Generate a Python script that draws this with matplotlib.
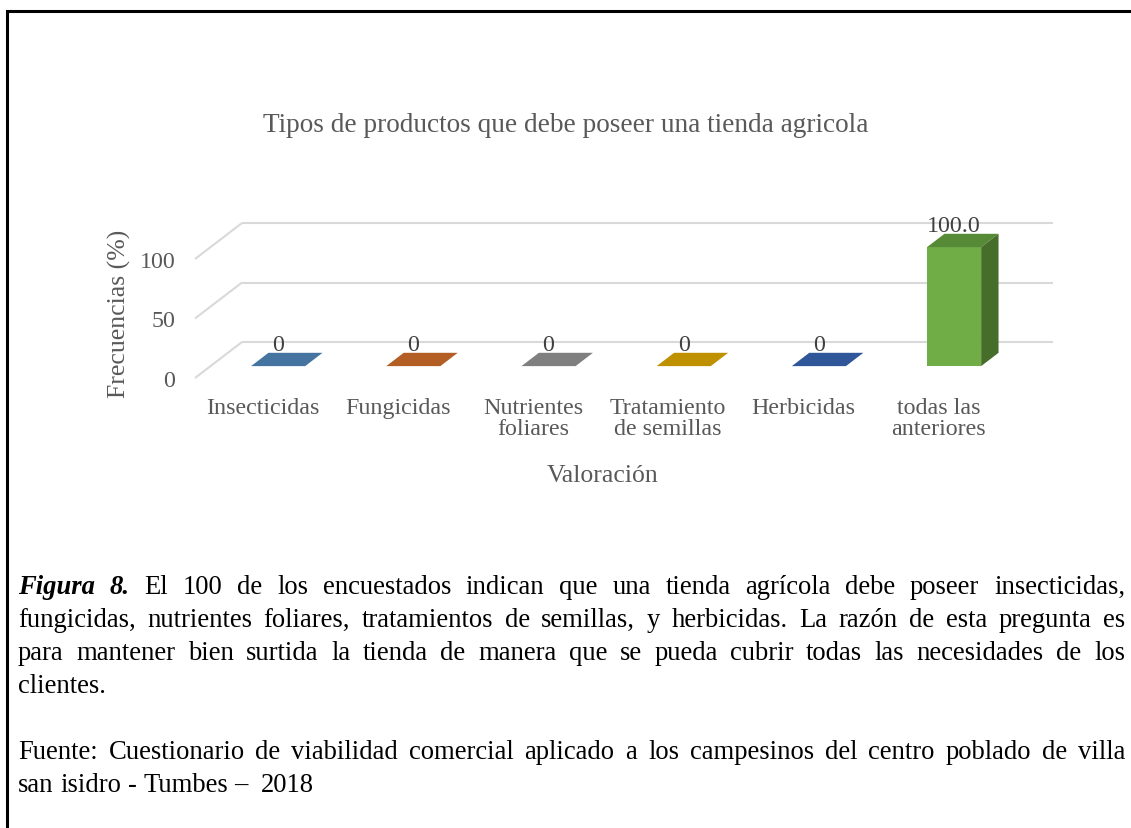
import matplotlib
matplotlib.use("Agg")
import matplotlib.pyplot as plt
from matplotlib.font_manager import FontProperties

# ---------------- data ----------------
categories = ["Insecticidas", "Fungicidas", "Nutrientes\nfoliares",
              "Tratamiento\nde semillas", "Herbicidas", "todas las\nanteriores"]
values = [0, 0, 0, 0, 0, 100.0]
value_labels = ["0", "0", "0", "0", "0", "100.0"]
yticks = [0, 50, 100]
title = "Tipos de productos que debe poseer una tienda agricola"
xlabel = "Valoración"
ylabel = "Frecuencias (%)"

front_colors = ["#5B9BD5", "#ED7D31", "#A5A5A5", "#FFC000", "#4472C4", "#70AD47"]
top_colors = ["#4674A0", "#B35E24", "#7F7F7F", "#BF9000", "#30569A", "#578A37"]
side_colors = ["#3A5F85", "#93491A", "#666666", "#9C7600", "#264580", "#466D2A"]

caption_lines = [
    (["Figura 8."], "El 100 de los encuestados indican que una tienda agrícola debe poseer insecticidas,", True),
    ([], "fungicidas, nutrientes foliares, tratamientos de semillas, y herbicidas. La razón de esta pregunta es", True),
    ([], "para mantener bien surtida la tienda de manera que se pueda cubrir todas las necesidades de los", True),
    ([], "clientes.", False),
    ([], "Fuente: Cuestionario de viabilidad comercial aplicado a los campesinos del centro poblado de villa", True),
    ([], "san isidro - Tumbes –  2018", False),
]
caption_baselines = [594, 627, 660, 693, 759, 792]

# ---------------- figure ----------------
W, H = 1131, 829
fig = plt.figure(figsize=(W / 100, H / 100), dpi=100)
fig.patch.set_facecolor("white")

SERIF = "Liberation Serif"
GRAY = "#595959"
FS = 17.3

# geometry (pixels)
px_per_cat = 135.2
px_per_val = 1.19
x0_px, y0_px = 195, 379           # front-left floor corner
DX = 47 / px_per_cat               # depth vector in data units
DY = 36 / px_per_val
d0, d1 = 0.33, 0.70                # bar depth range
bw = 0.40

ax_l, ax_r, ax_t, ax_b = 188, 1100, 180, 392
ax = fig.add_axes([ax_l / W, 1 - ax_b / H, (ax_r - ax_l) / W, (ax_b - ax_t) / H])
ax.set_xlim((ax_l - x0_px) / px_per_cat, (ax_r - x0_px) / px_per_cat)
ax.set_ylim((y0_px - ax_b) / px_per_val, (y0_px - ax_t) / px_per_val)
ax.patch.set_alpha(0)
for s in ax.spines.values():
    s.set_visible(False)

n = len(categories)
GRID = "#D9D9D9"
for v in yticks:
    ax.plot([0, DX], [v, v + DY], color=GRID, lw=1.5, zorder=1, solid_capstyle="butt")
    ax.plot([DX, n + DX], [v + DY, v + DY], color=GRID, lw=1.5, zorder=1, solid_capstyle="butt")


def P(x, v, d):
    return (x + d * DX, v + d * DY)


for i, val in enumerate(values):
    xc = i + 0.5
    xl, xr = xc - bw / 2, xc + bw / 2
    # front face through bar()
    ax.bar(xc + d0 * DX, val, width=bw, bottom=d0 * DY, color=front_colors[i],
           edgecolor="none", zorder=3)
    top = [P(xl, val, d0), P(xr, val, d0), P(xr, val, d1), P(xl, val, d1)]
    ax.fill([p[0] for p in top], [p[1] for p in top], color=top_colors[i], lw=0, zorder=3)
    side = [P(xr, 0, d0), P(xr, 0, d1), P(xr, val, d1), P(xr, val, d0)]
    ax.fill([p[0] for p in side], [p[1] for p in side], color=side_colors[i], lw=0, zorder=3)
    lx, ly = P(xc, val, d1)
    ax.annotate(value_labels[i], (xc + d0 * DX, ly), xytext=(0, 6), textcoords="offset points",
                ha="center", va="center", fontsize=FS, family=SERIF, color="#404040", zorder=5)

ax.set_yticks(yticks)
ax.set_yticklabels([str(t) for t in yticks], fontsize=FS, family=SERIF, color=GRAY)
ax.set_xticks([i + 0.5 for i in range(n)])
ax.set_xticklabels(categories, fontsize=FS, family=SERIF, color=GRAY, linespacing=1.05)
ax.tick_params(axis="y", length=0, pad=9)
ax.tick_params(axis="x", length=0, pad=4)

ax.set_ylabel(ylabel, fontsize=18.5, family=SERIF, color=GRAY)
ax.yaxis.set_label_coords((119 - ax_l) / (ax_r - ax_l), (ax_b - 314) / (ax_b - ax_t))
ax.set_xlabel(xlabel, fontsize=18.5, family=SERIF, color=GRAY)
ax.xaxis.set_label_coords((603 - ax_l) / (ax_r - ax_l), (ax_b - 476) / (ax_b - ax_t))
ax.xaxis.label.set_va("center")
ax.yaxis.label.set_va("center")

fig.text(566 / W, 1 - 126 / H, title, ha="center", va="center", fontsize=19.6,
         family=SERIF, color=GRAY)

# ---------------- border ----------------
bax = fig.add_axes([0, 0, 1, 1])
bax.set_xlim(0, W)
bax.set_ylim(H, 0)
bax.axis("off")
bax.patch.set_alpha(0)
bax.plot([7, 7, W + 5], [H + 5, 12, 12], color="black", lw=2.2, solid_joinstyle="miter")

# ---------------- justified caption ----------------
renderer = fig.canvas.get_renderer()
CAP_SIZE = 19.2
fp_reg = FontProperties(family=SERIF, size=CAP_SIZE)
fp_bi = FontProperties(family=SERIF, size=CAP_SIZE, weight="bold", style="italic")
left_px, right_px = 18, 1125


def width_of(word, fp):
    t = fig.text(0, 0, word, fontproperties=fp)
    w = t.get_window_extent(renderer).width
    t.remove()
    return w


space_w = width_of("a a", fp_reg) - 2 * width_of("a", fp_reg)
for (bold_words, rest, justify), base in zip(caption_lines, caption_baselines):
    words = [(w, fp_bi) for w in " ".join(bold_words).split()] + [(w, fp_reg) for w in rest.split(" ")]
    widths = [width_of(w, f) if w else 0 for w, f in words]
    if justify and len(words) > 1:
        gap = (right_px - left_px - sum(widths)) / (len(words) - 1)
    else:
        gap = space_w
    x = left_px
    for (w, f), wd in zip(words, widths):
        if w:
            fig.text(x / W, 1 - base / H, w, fontproperties=f, color="black",
                     ha="left", va="baseline")
        x += wd + gap

fig.savefig("out.png", dpi=100, facecolor="white")
